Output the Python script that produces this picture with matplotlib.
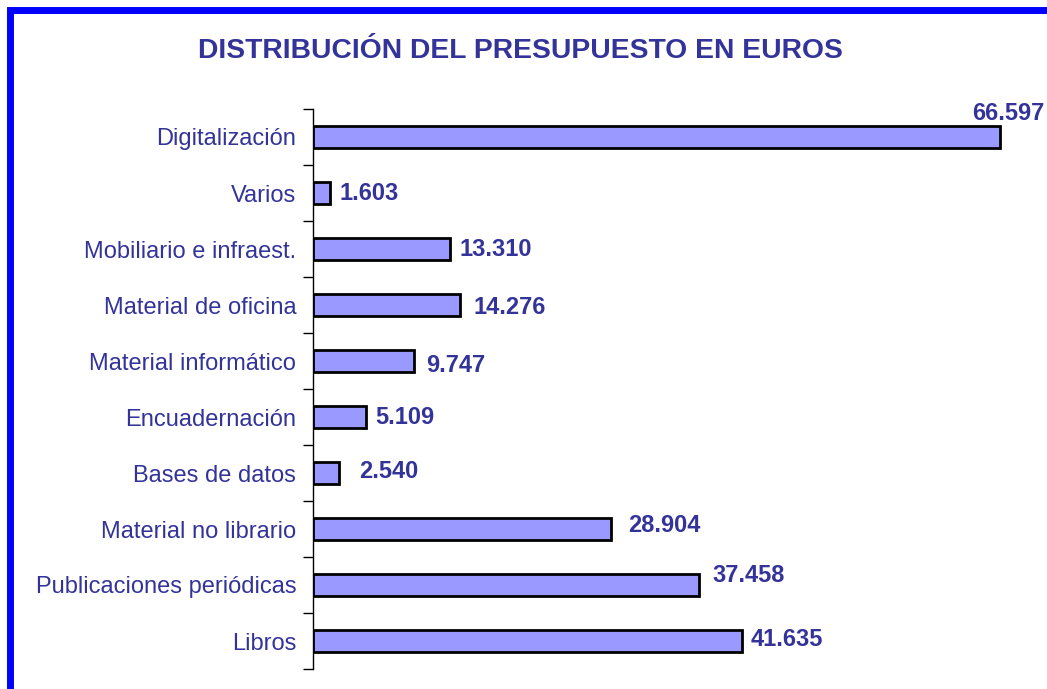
import matplotlib
matplotlib.use("Agg")
import matplotlib.pyplot as plt
from matplotlib.patches import Rectangle

plt.rcParams['font.family'] = ['Liberation Sans', 'DejaVu Sans']

categories = ["Digitalización", "Varios", "Mobiliario e infraest.", "Material de oficina",
              "Material informático", "Encuadernación", "Bases de datos",
              "Material no librario", "Publicaciones periódicas", "Libros"]
values = [66597, 1603, 13310, 14276, 9747, 5109, 2540, 28904, 37458, 41635]
value_labels = ["66.597", "1.603", "13.310", "14.276", "9.747", "5.109", "2.540",
                "28.904", "37.458", "41.635"]
title = "DISTRIBUCIÓN DEL PRESUPUESTO EN EUROS"

# label placement offsets in pixels (style only)
label_dx = [-28, 10, 9, 13, 13, 10, 20, 17, 13, 8]
label_dy = [24, 0, 0, -2, -5, -1, 1, 4, 9, 2]

W, H = 1047, 689
fig = plt.figure(figsize=(W / 100, H / 100), dpi=100)
fig.patch.set_facecolor('white')

text_color = '#333399'
ax = fig.add_axes([313 / W, (H - 669) / H, 722 / W, 560 / H])
ypos = list(range(len(categories)))
ax.barh(ypos, values, height=0.41, color='#9999FF', edgecolor='black', linewidth=2.0)
ax.set_xlim(0, 70000)
ax.set_ylim(len(categories) - 0.5, -0.5)

for spine in ['top', 'right', 'bottom']:
    ax.spines[spine].set_visible(False)
ax.spines['left'].set_linewidth(1.0)
ax.set_xticks([])
ax.set_yticks([i - 0.5 for i in range(len(categories) + 1)])
ax.set_yticklabels([])
ax.tick_params(axis='y', which='major', direction='out', length=7, width=1.0)
ax.set_yticks(ypos, minor=True)
ax.set_yticklabels(categories, minor=True, fontsize=17, color=text_color)
ax.tick_params(axis='y', which='minor', length=0, pad=12)

for i, (v, lab) in enumerate(zip(values, value_labels)):
    ax.annotate(lab, xy=(v, i), xytext=(label_dx[i], label_dy[i]),
                textcoords='offset pixels', ha='left', va='center',
                fontsize=17, fontweight='bold', color=text_color,
                annotation_clip=False)

fig.text(520 / W, 1 - 51 / H, title, ha='center', va='center',
         fontsize=20.3, fontweight='bold', color=text_color)

border = Rectangle((9.5 / W, -0.2), 1.2, 1 - 9.5 / H + 0.2, transform=fig.transFigure,
                   fill=False, edgecolor='#0000FF', linewidth=5.0, clip_on=False)
fig.patches.append(border)

fig.savefig('out.png', dpi=100)
